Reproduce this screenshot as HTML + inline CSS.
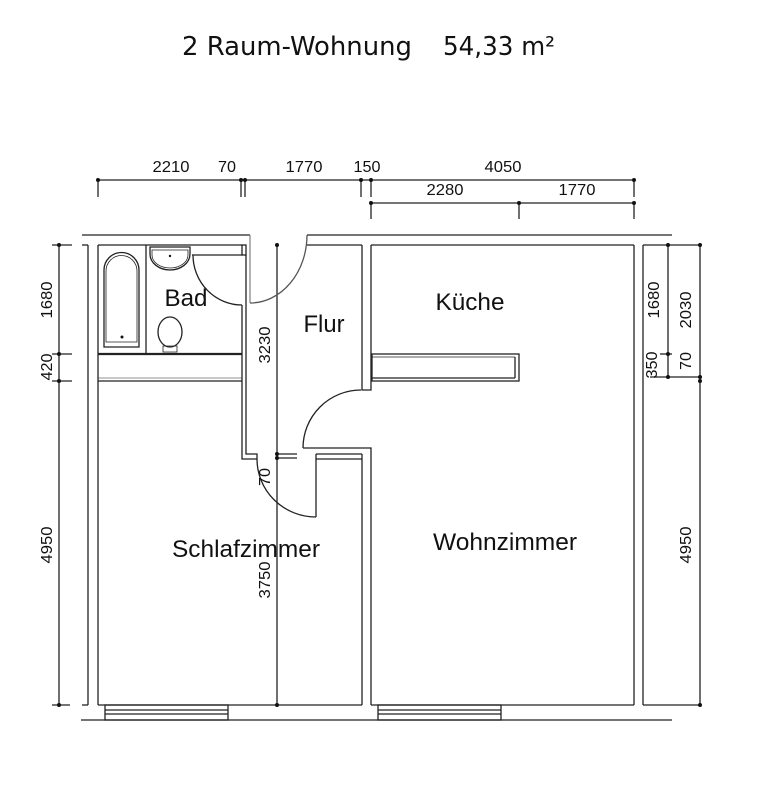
<!DOCTYPE html>
<html><head><meta charset="utf-8"><style>
html,body{margin:0;padding:0;background:#fff;width:768px;height:792px;overflow:hidden}
svg{display:block}
text{font-family:"Liberation Sans",Arial,sans-serif;fill:#111}
</style></head><body>
<svg width="768" height="792" viewBox="0 0 768 792" xmlns="http://www.w3.org/2000/svg">
<text x="182" y="55" font-size="26" textLength="230" lengthAdjust="spacingAndGlyphs" style="font-family:'DejaVu Sans','Liberation Sans',sans-serif">2 Raum-Wohnung</text>
<text x="443" y="55" font-size="26" textLength="112" lengthAdjust="spacingAndGlyphs" style="font-family:'DejaVu Sans','Liberation Sans',sans-serif">54,33 m²</text>

<g stroke="#222" stroke-width="1.3" fill="none">
<line x1="98" y1="180" x2="634" y2="180"/>
<line x1="98" y1="180" x2="98" y2="197"/>
<line x1="241" y1="180" x2="241" y2="197"/>
<line x1="245" y1="180" x2="245" y2="197"/>
<line x1="361" y1="180" x2="361" y2="197"/>
<line x1="371" y1="180" x2="371" y2="197"/>
<line x1="634" y1="180" x2="634" y2="197"/>
<line x1="371" y1="203" x2="634" y2="203"/>
<line x1="371" y1="203" x2="371" y2="219"/>
<line x1="519" y1="203" x2="519" y2="219"/>
<line x1="634" y1="203" x2="634" y2="219"/>
<line x1="59" y1="245" x2="59" y2="705"/>
<line x1="52" y1="245" x2="72" y2="245"/>
<line x1="52" y1="354" x2="72" y2="354"/>
<line x1="52" y1="381" x2="72" y2="381"/>
<line x1="52" y1="705" x2="70" y2="705"/>
<line x1="668" y1="245" x2="668" y2="377"/>
<line x1="700" y1="245" x2="700" y2="705"/>
<line x1="643" y1="245" x2="700" y2="245"/>
<line x1="660" y1="354" x2="672" y2="354"/>
<line x1="650" y1="377" x2="702" y2="377"/>
<line x1="643" y1="705" x2="700" y2="705"/>
<line x1="277" y1="245" x2="277" y2="705"/>
<line x1="277" y1="454" x2="297" y2="454"/>
<line x1="277" y1="458" x2="297" y2="458"/>

<line x1="82" y1="235" x2="250" y2="235"/>
<line x1="307" y1="235" x2="672" y2="235"/>
<line x1="82" y1="245" x2="88" y2="245"/>
<line x1="88" y1="245" x2="88" y2="705"/>
<line x1="82" y1="705" x2="88" y2="705"/>
<line x1="98" y1="245" x2="98" y2="705"/>
<line x1="98" y1="245" x2="242" y2="245"/>
<line x1="307" y1="245" x2="362" y2="245"/>
<line x1="371" y1="245" x2="634" y2="245"/>
<line x1="634" y1="245" x2="634" y2="705"/>
<line x1="643" y1="245" x2="643" y2="705"/>
<line x1="98" y1="705" x2="362" y2="705"/>
<line x1="371" y1="705" x2="634" y2="705"/>
<line x1="81" y1="720" x2="672" y2="720"/>
<rect x="105" y="705" width="123" height="15"/>
<line x1="105" y1="710" x2="228" y2="710"/>
<line x1="105" y1="714" x2="228" y2="714"/>
<rect x="378" y="705" width="123" height="15"/>
<line x1="378" y1="710" x2="501" y2="710"/>
<line x1="378" y1="714" x2="501" y2="714"/>

<line x1="146" y1="245" x2="146" y2="354"/>
<path d="M104 347 V270 A17.5 17.5 0 0 1 139 270 V347 Z"/>
<path d="M106 342 V271 A15.5 15.5 0 0 1 137 271 V342 Z" stroke-width="0.8"/>
<path d="M150 247 H190 V254 A20 16 0 0 1 150 254 Z"/>
<path d="M152 250 H188 V255 A18 13 0 0 1 152 255 Z" stroke-width="0.8"/>
<ellipse cx="170" cy="332" rx="12" ry="15"/>
<path d="M163 346 H177 V352 H163 Z" stroke-width="0.8"/>
<line x1="192" y1="255" x2="242" y2="255"/>
<rect x="242" y="245" width="4" height="10"/>
<path d="M193 255 A49 50 0 0 0 242 305"/>
<line x1="98" y1="354" x2="242" y2="354" stroke-width="2.2"/>
<line x1="98" y1="381" x2="242" y2="381"/>
<line x1="98" y1="378" x2="242" y2="378" stroke-width="0.6"/>
<line x1="250" y1="235" x2="250" y2="303" stroke="#888"/>
<path d="M307 235 A57 68 0 0 1 250 303" stroke="#555"/>
<path d="M242 305 V459 H257"/>
<path d="M246 255 V454 H257 V459"/>
<path d="M257 459 A59 58 0 0 0 316 517"/>
<line x1="316" y1="454" x2="316" y2="517"/>
<line x1="316" y1="454" x2="362" y2="454"/>
<line x1="316" y1="459" x2="362" y2="459"/>
<path d="M362 245 V390 H371 V245"/>
<path d="M303 448 A58 58 0 0 1 361 390"/>
<path d="M303 448 H371 V705"/>
<line x1="362" y1="454" x2="362" y2="705"/>
<rect x="372" y="354" width="147" height="27"/>
<line x1="372" y1="357" x2="515" y2="357" stroke-width="0.8"/>
<line x1="515" y1="357" x2="515" y2="378"/>
<line x1="372" y1="378" x2="515" y2="378"/>
</g>

<g fill="#111">
<circle cx="98" cy="180" r="2"/><circle cx="241" cy="180" r="2"/><circle cx="245" cy="180" r="2"/><circle cx="361" cy="180" r="2"/><circle cx="371" cy="180" r="2"/><circle cx="634" cy="180" r="2"/>
<circle cx="371" cy="203" r="2"/><circle cx="519" cy="203" r="2"/><circle cx="634" cy="203" r="2"/>
<circle cx="59" cy="245" r="2"/><circle cx="59" cy="354" r="2"/><circle cx="59" cy="381" r="2"/><circle cx="59" cy="705" r="2"/>
<circle cx="668" cy="245" r="2"/><circle cx="668" cy="354" r="2"/><circle cx="668" cy="377" r="2"/>
<circle cx="700" cy="245" r="2"/><circle cx="700" cy="377" r="2"/><circle cx="700" cy="381" r="2"/><circle cx="700" cy="705" r="2"/>
<circle cx="277" cy="245" r="2"/><circle cx="277" cy="454" r="2"/><circle cx="277" cy="458" r="2"/><circle cx="277" cy="705" r="2"/>
<circle cx="170" cy="256" r="1.2"/><circle cx="122" cy="337" r="1.5"/>
</g>

<g font-size="16">
<text x="171" y="172" text-anchor="middle" textLength="37" lengthAdjust="spacingAndGlyphs">2210</text>
<text x="227" y="172" text-anchor="middle" textLength="18" lengthAdjust="spacingAndGlyphs">70</text>
<text x="304" y="172" text-anchor="middle" textLength="37" lengthAdjust="spacingAndGlyphs">1770</text>
<text x="367" y="172" text-anchor="middle" textLength="27" lengthAdjust="spacingAndGlyphs">150</text>
<text x="503" y="172" text-anchor="middle" textLength="37" lengthAdjust="spacingAndGlyphs">4050</text>
<text x="445" y="195" text-anchor="middle" textLength="37" lengthAdjust="spacingAndGlyphs">2280</text>
<text x="577" y="195" text-anchor="middle" textLength="37" lengthAdjust="spacingAndGlyphs">1770</text>
<text transform="translate(52,300) rotate(-90)" text-anchor="middle" textLength="37" lengthAdjust="spacingAndGlyphs">1680</text>
<text transform="translate(52,367) rotate(-90)" text-anchor="middle" textLength="27" lengthAdjust="spacingAndGlyphs">420</text>
<text transform="translate(52,545) rotate(-90)" text-anchor="middle" textLength="37" lengthAdjust="spacingAndGlyphs">4950</text>
<text transform="translate(659,300) rotate(-90)" text-anchor="middle" textLength="37" lengthAdjust="spacingAndGlyphs">1680</text>
<text transform="translate(691,310) rotate(-90)" text-anchor="middle" textLength="37" lengthAdjust="spacingAndGlyphs">2030</text>
<text transform="translate(657,365) rotate(-90)" text-anchor="middle" textLength="27" lengthAdjust="spacingAndGlyphs">350</text>
<text transform="translate(691,361) rotate(-90)" text-anchor="middle" textLength="18" lengthAdjust="spacingAndGlyphs">70</text>
<text transform="translate(691,545) rotate(-90)" text-anchor="middle" textLength="37" lengthAdjust="spacingAndGlyphs">4950</text>
<text transform="translate(270,345) rotate(-90)" text-anchor="middle" textLength="37" lengthAdjust="spacingAndGlyphs">3230</text>
<text transform="translate(270,477) rotate(-90)" text-anchor="middle" textLength="18" lengthAdjust="spacingAndGlyphs">70</text>
<text transform="translate(270,580) rotate(-90)" text-anchor="middle" textLength="37" lengthAdjust="spacingAndGlyphs">3750</text>
</g>
<g font-size="24">
<text x="186" y="306" text-anchor="middle" textLength="43" lengthAdjust="spacingAndGlyphs">Bad</text>
<text x="324" y="332" text-anchor="middle" textLength="41" lengthAdjust="spacingAndGlyphs">Flur</text>
<text x="470" y="310" text-anchor="middle" textLength="69" lengthAdjust="spacingAndGlyphs">Küche</text>
<text x="246" y="557" text-anchor="middle" textLength="148" lengthAdjust="spacingAndGlyphs">Schlafzimmer</text>
<text x="505" y="550" text-anchor="middle" textLength="144" lengthAdjust="spacingAndGlyphs">Wohnzimmer</text>
</g>
</svg>
</body></html>
